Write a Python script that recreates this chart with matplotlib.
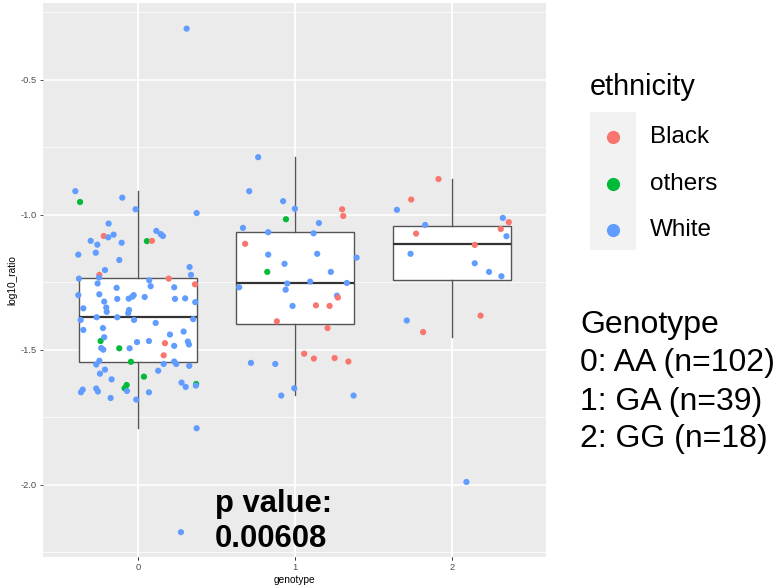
import matplotlib
matplotlib.use("Agg")
import matplotlib.pyplot as plt
from matplotlib.patches import Rectangle
from matplotlib.lines import Line2D

plt.rcParams["font.family"] = ["Liberation Sans", "DejaVu Sans"]

# ethnicity colours (ggplot default hue)
eth_names = ["Black", "others", "White"]
eth_colors = {"Black": "#F8766D", "others": "#00BA38", "White": "#619CFF"}

# box stats per genotype: whislo, q1, median, q3, whishi
genotypes = [0, 1, 2]
box_whislo = [-1.789, -1.667, -1.452]
box_q1 = [-1.544, -1.404, -1.241]
box_med = [-1.378, -1.252, -1.107]
box_q3 = [-1.233, -1.063, -1.041]
box_whishi = [-0.911, -0.785, -0.867]

# jittered points: jitter offset from genotype, log10_ratio, ethnicity
g0_jit = [-0.399, -0.369, -0.100, -0.015, 0.374, -0.187, -0.218, -0.189, -0.155, -0.301,
          -0.259, -0.104, 0.057, 0.089, 0.117, 0.145, 0.159, -0.380, -0.269, -0.119,
          -0.210, -0.246, 0.329, 0.338, -0.376, -0.248, 0.196, 0.072, 0.363, -0.257,
          0.081, -0.136, 0.231, -0.380, -0.246, -0.027, -0.036, -0.059, 0.043, 0.236,
          0.301, -0.132, -0.215, 0.310, 0.365, -0.348, -0.202, -0.199, -0.057, -0.062,
          -0.365, -0.263, -0.132, -0.025, 0.352, 0.113, -0.348, -0.223, 0.291, 0.204,
          -0.238, -0.215, 0.070, -0.006, 0.172, 0.318, 0.325, 0.231, -0.234, -0.221,
          -0.119, -0.053, 0.164, -0.246, -0.266, -0.045, 0.231, 0.244, 0.327, 0.164,
          -0.210, 0.129, -0.242, 0.038, -0.168, 0.278, 0.304, 0.371, 0.369, -0.072,
          -0.085, -0.070, -0.352, -0.363, -0.266, -0.255, 0.070, -0.174, -0.011, 0.374,
          0.274]
g0_val = [-0.912, -0.952, -0.936, -0.979, -0.993, -1.032, -1.078, -1.083, -1.073, -1.096,
          -1.110, -1.103, -1.097, -1.096, -1.059, -1.071, -1.078, -1.147, -1.140, -1.167,
          -1.204, -1.222, -1.193, -1.222, -1.236, -1.232, -1.236, -1.242, -1.257, -1.254,
          -1.264, -1.270, -1.268, -1.297, -1.294, -1.297, -1.303, -1.310, -1.304, -1.311,
          -1.309, -1.311, -1.321, -0.310, -1.323, -1.346, -1.343, -1.359, -1.352, -1.364,
          -1.389, -1.379, -1.379, -1.389, -1.386, -1.400, -1.426, -1.419, -1.432, -1.443,
          -1.467, -1.453, -1.467, -1.471, -1.475, -1.469, -1.480, -1.485, -1.493, -1.499,
          -1.494, -1.494, -1.520, -1.540, -1.554, -1.544, -1.543, -1.552, -1.559, -1.552,
          -1.573, -1.577, -1.588, -1.599, -1.609, -1.621, -1.637, -1.626, -1.632, -1.630,
          -1.642, -1.652, -1.647, -1.657, -1.643, -1.654, -1.657, -1.678, -1.684, -1.790,
          -2.175]
g0_eth = ["White", "others", "White", "White", "White", "White", "Black", "White", "White", "White",
          "White", "White", "others", "Black", "White", "White", "White", "White", "White", "White",
          "White", "Black", "White", "White", "White", "White", "Black", "White", "Black", "White",
          "White", "White", "White", "White", "White", "White", "White", "White", "White", "White",
          "White", "White", "White", "White", "White", "White", "White", "White", "White", "White",
          "White", "White", "White", "White", "White", "White", "White", "White", "White", "White",
          "others", "White", "White", "White", "Black", "White", "White", "White", "White", "White",
          "others", "White", "Black", "White", "White", "others", "White", "White", "White", "White",
          "White", "White", "White", "others", "White", "White", "White", "others", "White", "others",
          "others", "White", "White", "White", "White", "White", "White", "White", "White", "White",
          "White"]

g1_jit = [-0.234, -0.291, -0.075, 0.000, 0.301, 0.308, -0.057, 0.153, -0.331, -0.170,
          0.119, -0.317, -0.170, 0.142, 0.393, -0.066, -0.176, 0.229, -0.355, -0.049,
          0.097, 0.331, -0.059, 0.268, 0.274, -0.015, 0.134, 0.221, -0.115, 0.208,
          0.059, 0.121, 0.253, 0.341, -0.280, -0.125, -0.004, -0.087, 0.374]
g1_val = [-0.786, -0.912, -0.949, -0.977, -0.979, -1.004, -1.016, -1.030, -1.048, -1.064,
          -1.068, -1.107, -1.147, -1.144, -1.158, -1.181, -1.211, -1.211, -1.268, -1.254,
          -1.247, -1.252, -1.277, -1.299, -1.306, -1.337, -1.335, -1.337, -1.394, -1.419,
          -1.514, -1.532, -1.530, -1.543, -1.548, -1.552, -1.642, -1.669, -1.669]
g1_eth = ["White", "White", "White", "White", "Black", "Black", "others", "White", "White", "White",
          "White", "Black", "White", "White", "White", "White", "others", "White", "White", "White",
          "White", "White", "White", "White", "Black", "White", "Black", "Black", "Black", "Black",
          "Black", "Black", "Black", "Black", "White", "White", "White", "White", "White"]

g2_jit = [-0.085, -0.259, -0.350, 0.325, 0.363, -0.170, 0.312, -0.228, 0.348, 0.146,
          -0.263, 0.146, 0.237, 0.316, 0.183, -0.287, -0.183, 0.093]
g2_val = [-0.867, -0.943, -0.981, -1.011, -1.027, -1.037, -1.052, -1.069, -1.079, -1.111,
          -1.144, -1.179, -1.211, -1.227, -1.373, -1.391, -1.434, -1.989]
g2_eth = ["Black", "Black", "White", "White", "Black", "White", "Black", "Black", "White", "Black",
          "White", "White", "White", "White", "Black", "White", "Black", "White"]

geno_lines = ["Genotype", "0: AA (n=102)", "1: GA (n=39)", "2: GG (n=18)"]
p_lines = ["p value:", "0.00608"]

fig = plt.figure(figsize=(7.8, 5.86), dpi=100)
ax = fig.add_axes([43 / 780, 1 - 557 / 586, 503 / 780, 554 / 586])
ax.set_facecolor("#EBEBEB")
for s in ax.spines.values():
    s.set_visible(False)

ax.set_xlim(-0.605, 2.6)
ax.set_ylim(-2.267, -0.215)
ax.set_xticks(genotypes)
ax.set_xticklabels([str(g) for g in genotypes])
ax.set_yticks([-0.5, -1.0, -1.5, -2.0])
ax.set_yticklabels(["-0.5", "-1.0", "-1.5", "-2.0"])
ax.set_yticks([-0.25, -0.75, -1.25, -1.75, -2.25], minor=True)
ax.grid(True, which="major", color="white", linewidth=1.1)
ax.grid(True, which="minor", axis="y", color="white", linewidth=0.55)
ax.tick_params(which="major", length=2.5, width=0.6, color="#333333",
               labelsize=6.7, labelcolor="#4D4D4D", pad=2)
ax.tick_params(which="minor", length=0)
ax.set_axisbelow(True)
ax.set_xlabel("genotype", fontsize=7.3, color="black", labelpad=2)
ax.set_ylabel("log10_ratio", fontsize=7.3, color="black", labelpad=2)

stats = []
for i in range(3):
    stats.append({"whislo": box_whislo[i], "q1": box_q1[i], "med": box_med[i],
                  "q3": box_q3[i], "whishi": box_whishi[i]})
ax.bxp(stats, positions=genotypes, widths=0.75, showcaps=False, showfliers=False,
       patch_artist=True,
       boxprops=dict(facecolor="white", edgecolor="#555555", linewidth=1.0),
       whiskerprops=dict(color="#555555", linewidth=1.0),
       medianprops=dict(color="#333333", linewidth=1.6),
       zorder=2)

for g, jit, val, eth in [(0, g0_jit, g0_val, g0_eth), (1, g1_jit, g1_val, g1_eth),
                         (2, g2_jit, g2_val, g2_eth)]:
    xs = [g + j for j in jit]
    cs = [eth_colors[e] for e in eth]
    ax.scatter(xs, val, s=20, c=cs, linewidths=0, zorder=3)

# p value annotation, baselines in data units
for line, yb in zip(p_lines, [-2.099, -2.229]):
    ax.text(0.49, yb, line, fontsize=22.3, fontweight="bold", va="baseline", ha="left",
            zorder=4)

# legend
fig.text(590 / 780, 1 - 87 / 586, "ethnicity", fontsize=20.8, va="center", ha="left")
fig.add_artist(Rectangle((590 / 780, 1 - 250 / 586), 46 / 780, 138 / 586,
                         transform=fig.transFigure, facecolor="#F2F2F2", edgecolor="none"))
key_y = [137, 184, 230]
for name, yk in zip(eth_names, key_y):
    fig.add_artist(Line2D([613 / 780], [1 - yk / 586], marker="o", markersize=9.5,
                          color=eth_colors[name], markeredgewidth=0, linestyle="none",
                          transform=fig.transFigure))
    fig.text(650 / 780, 1 - yk / 586, name, fontsize=17.5, va="center", ha="left")

for line, yb in zip(geno_lines, [333, 371.5, 410, 447]):
    fig.text(580 / 780, 1 - yb / 586, line, fontsize=23, va="baseline", ha="left")

fig.savefig("out.png", dpi=100, facecolor="white")
